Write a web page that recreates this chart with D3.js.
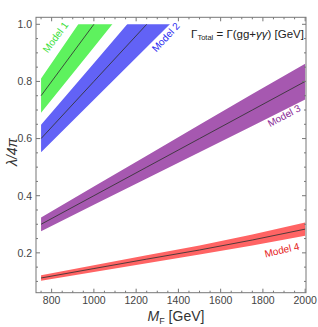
<!DOCTYPE html>
<html><head><meta charset="utf-8">
<script src="https://cdn.jsdelivr.net/npm/d3@7"></script>
<style>body{margin:0;background:#fff}svg{display:block;font-family:"Liberation Sans",Arial,sans-serif}</style>
</head><body><div id="c"></div>
<script>
// ---- data ----
const massM1 = [750, 1000, 1100];
const m1Center = [0.75, 1.0, 1.1];
const m1Lower = [0.69, 0.92, 1.012];
const m1Upper = [0.81, 1.08, 1.188];

const massM2 = [750, 1000, 1250, 1400];
const m2Center = [0.60, 0.80, 1.00, 1.12];
const m2Lower = [0.552, 0.736, 0.92, 1.03];
const m2Upper = [0.648, 0.864, 1.08, 1.21];

const massM3 = [750, 1000, 1250, 1500, 1750, 2000];
const m3Center = [0.30, 0.40, 0.50, 0.60, 0.70, 0.80];
const m3Lower = [0.276, 0.368, 0.46, 0.552, 0.644, 0.737];
const m3Upper = [0.324, 0.432, 0.54, 0.648, 0.756, 0.862];

const massM4 = [750, 1000, 1250, 1500, 1750, 2000];
const m4Center = [0.112, 0.145, 0.178, 0.21, 0.245, 0.283];
const m4Lower = [0.102, 0.133, 0.164, 0.194, 0.226, 0.26];
const m4Upper = [0.122, 0.157, 0.192, 0.226, 0.264, 0.306];

const modelNames = ["Model 1", "Model 2", "Model 3", "Model 4"];
const xTicks = [800, 1000, 1200, 1400, 1600, 1800, 2000];
const yTicks = [0.2, 0.4, 0.6, 0.8, 1.0];

// ---- chart ----
const W = 318, H = 327;
const L = 36, R = 306, T = 17.3, B = 292.7;
const x = d3.scaleLinear().domain([726, 2004]).range([L, R]);
const y = d3.scaleLinear().domain([0.0605, 1.0245]).range([B, T]);

const svg = d3.select("#c").append("svg").attr("width", W).attr("height", H);
svg.append("defs").append("clipPath").attr("id", "clipTop")
  .append("rect").attr("x", L).attr("y", y(1.0)).attr("width", R - L).attr("height", B - y(1.0));

const models = [
  {m: massM1, c: m1Center, lo: m1Lower, hi: m1Upper, fill: "#5ef25e", text: "#3ae03a"},
  {m: massM2, c: m2Center, lo: m2Lower, hi: m2Upper, fill: "#6262f6", text: "#2a2af0"},
  {m: massM3, c: m3Center, lo: m3Lower, hi: m3Upper, fill: "#a658b0", text: "#8a2a96"},
  {m: massM4, c: m4Center, lo: m4Lower, hi: m4Upper, fill: "#ff6464", text: "#e52020"}
];

const g = svg.append("g").attr("clip-path", "url(#clipTop)");
models.forEach(md => {
  const pts = md.m.map((v, i) => ({m: v, c: md.c[i], lo: md.lo[i], hi: md.hi[i]}));
  g.append("path").datum(pts)
    .attr("d", d3.area().x(d => x(d.m)).y0(d => y(d.lo)).y1(d => y(d.hi)))
    .attr("fill", md.fill);
  g.append("path").datum(pts)
    .attr("d", d3.line().x(d => x(d.m)).y(d => y(d.c)))
    .attr("fill", "none").attr("stroke", "#333").attr("stroke-opacity", 0.85).attr("stroke-width", 1);
});

// frame
svg.append("rect").attr("x", L).attr("y", T).attr("width", R - L).attr("height", B - T)
  .attr("fill", "none").attr("stroke", "#777").attr("stroke-width", 1);

// ticks (inward)
const tk = svg.append("g").attr("stroke", "#777").attr("stroke-width", 1);
const xMinor = d3.range(750, 2001, 50);
xMinor.forEach(v => {
  const major = v % 200 === 0;
  const len = major ? 4 : 2;
  tk.append("line").attr("x1", x(v)).attr("x2", x(v)).attr("y1", B).attr("y2", B - len);
  tk.append("line").attr("x1", x(v)).attr("x2", x(v)).attr("y1", T).attr("y2", T + len);
});
const yMinor = d3.range(0.1, 1.001, 0.05);
yMinor.forEach(v => {
  const major = Math.abs(v * 5 - Math.round(v * 5)) < 1e-6;
  const len = major ? 4 : 2;
  tk.append("line").attr("y1", y(v)).attr("y2", y(v)).attr("x1", L).attr("x2", L + len);
  tk.append("line").attr("y1", y(v)).attr("y2", y(v)).attr("x1", R).attr("x2", R - len);
});

// tick labels
svg.append("g").selectAll("text").data(xTicks).join("text")
  .attr("x", d => x(d)).attr("y", B + 11.5).attr("text-anchor", "middle")
  .attr("font-size", 10.5).attr("fill", "#444").text(d => d);
svg.append("g").selectAll("text").data(yTicks).join("text")
  .attr("x", 32).attr("y", d => y(d) + 3.8).attr("text-anchor", "end")
  .attr("font-size", 10.5).attr("fill", "#444").text(d => d.toFixed(1));

// axis labels
const xl = svg.append("text").attr("x", 176).attr("y", 321).attr("text-anchor", "middle")
  .attr("font-size", 14).attr("fill", "#333");
xl.append("tspan").attr("font-style", "italic").text("M");
xl.append("tspan").attr("font-size", 9).attr("dy", 3).text("F");
xl.append("tspan").attr("dy", -3).text(" [GeV]");

svg.append("text").attr("transform", "translate(17,152) rotate(-90)")
  .attr("text-anchor", "middle").attr("font-size", 14).attr("fill", "#333")
  .attr("font-style", "italic").text("λ/4π");

// gamma annotation
const ga = svg.append("text").attr("x", 304).attr("y", 38).attr("text-anchor", "end")
  .attr("font-size", 11.5).attr("fill", "#222");
ga.append("tspan").text("Γ");
ga.append("tspan").attr("font-size", 7.5).attr("dy", 2).text("Total");
ga.append("tspan").attr("dy", -2).text(" = Γ(gg+");
ga.append("tspan").attr("font-style", "italic").text("γγ");
ga.append("tspan").text(") [GeV]");

// model labels
const labelPos = [
  {m: 818, v: 0.955, a: -53.6},
  {m: 1340, v: 0.955, a: -47},
  {m: 1900, v: 0.68, a: -28},
  {m: 1890, v: 0.21, a: -13}
];
labelPos.forEach((p, i) => {
  svg.append("text").attr("transform", `translate(${x(p.m)},${y(p.v)}) rotate(${p.a})`)
    .attr("text-anchor", "middle").attr("dy", "0.35em").attr("font-size", 10)
    .attr("fill", models[i].text).text(modelNames[i]);
});
</script></body></html>
